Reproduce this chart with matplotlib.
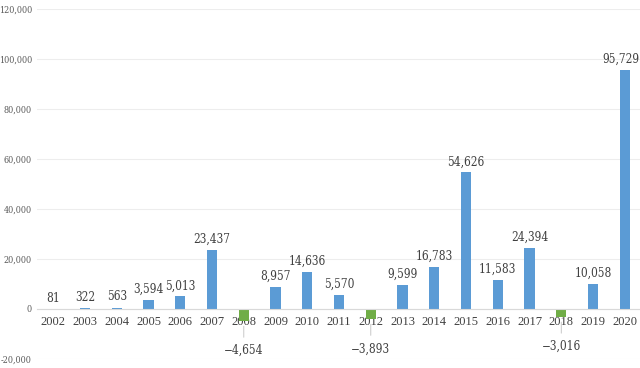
import numpy as np
import matplotlib.pyplot as plt
from matplotlib import font_manager

years = [str(y) for y in range(2002, 2021)]
values = [81, 322, 563, 3594, 5013, 23437, -4654, 8957, 14636, 5570,
          -3893, 9599, 16783, 54626, 11583, 24394, -3016, 10058, 95729]

plt.rcParams['font.family'] = ['Liberation Serif', 'DejaVu Serif']
cond = [f for f in font_manager.fontManager.ttflist
        if f.name == 'DejaVu Serif' and f.stretch == 'condensed']
lab_font = dict(family='DejaVu Serif', stretch='condensed') if cond else dict(family='Liberation Serif')

fig = plt.figure(figsize=(6.4, 3.68), dpi=100)
ax = fig.add_axes([0.0585, 0.0245, 0.9425, 0.951])

x = np.arange(len(years))
colors = ['#5B9BD5' if v >= 0 else '#70AD47' for v in values]
ax.bar(x, values, width=0.32, color=colors, zorder=3)

for i, v in enumerate(values):
    label = f'{v:,}'.replace('-', '\u2212')
    # keep the last label inside the figure, like Excel does
    dx = -2.5 if i == len(values) - 1 else 0
    if v >= 0:
        ax.annotate(label, (i, v), xytext=(dx, 3), textcoords='offset points',
                    ha='center', va='bottom', fontsize=8.5, color='#404040', **lab_font)
    else:
        ax.annotate(label, (i, v), xytext=(0, -17), textcoords='offset points',
                    ha='center', va='top', fontsize=8.5, color='#404040', **lab_font,
                    arrowprops=dict(arrowstyle='-', color='#BFBFBF', lw=0.6,
                                    shrinkA=3, shrinkB=4))

ax.set_xlim(-0.5, len(years) - 0.5)
ax.set_ylim(-20000, 120000)
yt = list(range(-20000, 120001, 20000))
ax.set_yticks(yt)
ax.set_yticklabels([f'{t:,}' for t in yt], **lab_font)
ax.tick_params(axis='y', length=0, labelsize=6.5, labelcolor='#595959', pad=4)

ax.set_xticks(x)
ax.set_xticklabels(years, **lab_font)
ax.tick_params(axis='x', length=0, labelsize=9, labelcolor='#404040', pad=5)

ax.grid(axis='y', color='#EDEDED', lw=0.8, zorder=0)
for s in ['top', 'right', 'left']:
    ax.spines[s].set_visible(False)
ax.spines['bottom'].set_position(('data', 0))
ax.spines['bottom'].set_color('#D9D9D9')
ax.spines['bottom'].set_zorder(4)

fig.savefig('out.png', dpi=100)
